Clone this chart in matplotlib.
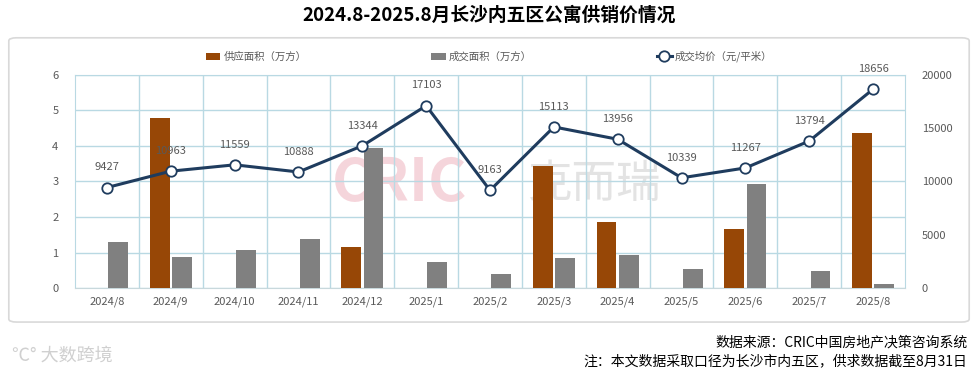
import matplotlib.pyplot as plt
from matplotlib.patches import FancyBboxPatch
import numpy as np

plt.rcParams['font.family'] = ['Noto Sans CJK SC', 'DejaVu Sans']

months = ['2024/8', '2024/9', '2024/10', '2024/11', '2024/12', '2025/1', '2025/2',
          '2025/3', '2025/4', '2025/5', '2025/6', '2025/7', '2025/8']
supply = [0, 4.78, 0, 0, 1.16, 0, 0, 3.43, 1.85, 0, 1.65, 0, 4.36]
deals = [1.29, 0.86, 1.07, 1.38, 3.94, 0.72, 0.39, 0.85, 0.93, 0.54, 2.93, 0.47, 0.10]
price = [9427, 10963, 11559, 10888, 13344, 17103, 9163, 15113, 13956, 10339, 11267, 13794, 18656]

brown = '#974706'
grey = '#808080'
navy = '#1f3c5e'
gridc = '#b9d9e3'

fig = plt.figure(figsize=(9.78, 3.78), dpi=100)

# outer rounded frame
frame = FancyBboxPatch((0.009, 0.148), 0.982, 0.752, boxstyle='round,pad=0,rounding_size=0.008',
                       transform=fig.transFigure, facecolor='white', edgecolor='#d9d9d9', lw=1.2,
                       zorder=-5)
fig.patches.append(frame)

fig.text(0.5, 0.96, '2024.8-2025.8月长沙内五区公寓供销价情况', ha='center', va='center',
         fontsize=13.5, fontweight='bold')

ax = fig.add_axes([0.0767, 0.238, 0.8487, 0.564])
ax2 = ax.twinx()

x = np.arange(len(months))
w = 0.31
ax.bar(x - 0.175, supply, w, color=brown, zorder=3, label='供应面积（万方）')
ax.bar(x + 0.175, deals, w, color=grey, zorder=3, label='成交面积（万方）')

ax.set_xlim(-0.5, len(months) - 0.5)
ax.set_ylim(0, 6)
ax.set_yticks(range(7))
ax.set_xticks(x)
ax.set_xticklabels(months)
for b in np.arange(0.5, len(months) - 1, 1):
    ax.axvline(b, color=gridc, lw=1, zorder=1)
ax.grid(axis='y', color=gridc, lw=1, zorder=1)
ax.set_axisbelow(True)
for s in ax.spines.values():
    s.set_color(gridc)
for s in ax2.spines.values():
    s.set_visible(False)
ax.spines['bottom'].set_color('#c8d8dc')
ax.tick_params(axis='x', length=0, labelsize=8, colors='#595959', pad=6)
ax.tick_params(axis='y', length=0, labelsize=8, colors='#595959', pad=12)

ax2.plot(x, price, color=navy, lw=2.2, marker='o', ms=7.5, mfc='white', mec=navy, mew=1.3,
         zorder=5, label='成交均价（元/平米）')
ax2.set_ylim(0, 20000)
ax2.set_yticks(range(0, 20001, 5000))
ax2.tick_params(length=0, labelsize=8, colors='#595959', pad=12)
for xi, p in zip(x, price):
    ax2.annotate(str(p), (xi, p), xytext=(0, 11), textcoords='offset points', ha='center',
                 va='bottom', fontsize=8, color='#595959', zorder=6)

ax.set_zorder(ax2.get_zorder() - 1)
ax.patch.set_visible(False)

# watermark
ax.text(0.31, 0.49, 'CRIC', transform=ax.transAxes, ha='left', va='center', fontsize=42,
        fontweight='bold', fontstyle='italic', color='#eba3b1', alpha=0.45, zorder=0)
ax.text(0.545, 0.49, '克而瑞', transform=ax.transAxes, ha='left', va='center', fontsize=32,
        color='#c8c8c8', alpha=0.5, zorder=0)

h1, l1 = ax.get_legend_handles_labels()
h2, l2 = ax2.get_legend_handles_labels()
fig.legend(h1 + h2, l1 + l2, loc='center', bbox_to_anchor=(0.5, 0.85), ncol=3, frameon=False,
           fontsize=7.5, columnspacing=12, handlelength=1.4, handletextpad=0.3,
           labelcolor='#595959')

fig.text(0.989, 0.093, '数据来源：CRIC中国房地产决策咨询系统', ha='right', va='center', fontsize=10)
fig.text(0.989, 0.045, '注：本文数据采取口径为长沙市内五区，供求数据截至8月31日', ha='right',
         va='center', fontsize=10)
fig.text(0.012, 0.06, '℃° 大数跨境', ha='left', va='center', fontsize=13, color='#d0d0d0')

plt.savefig('out.png', dpi=100)
